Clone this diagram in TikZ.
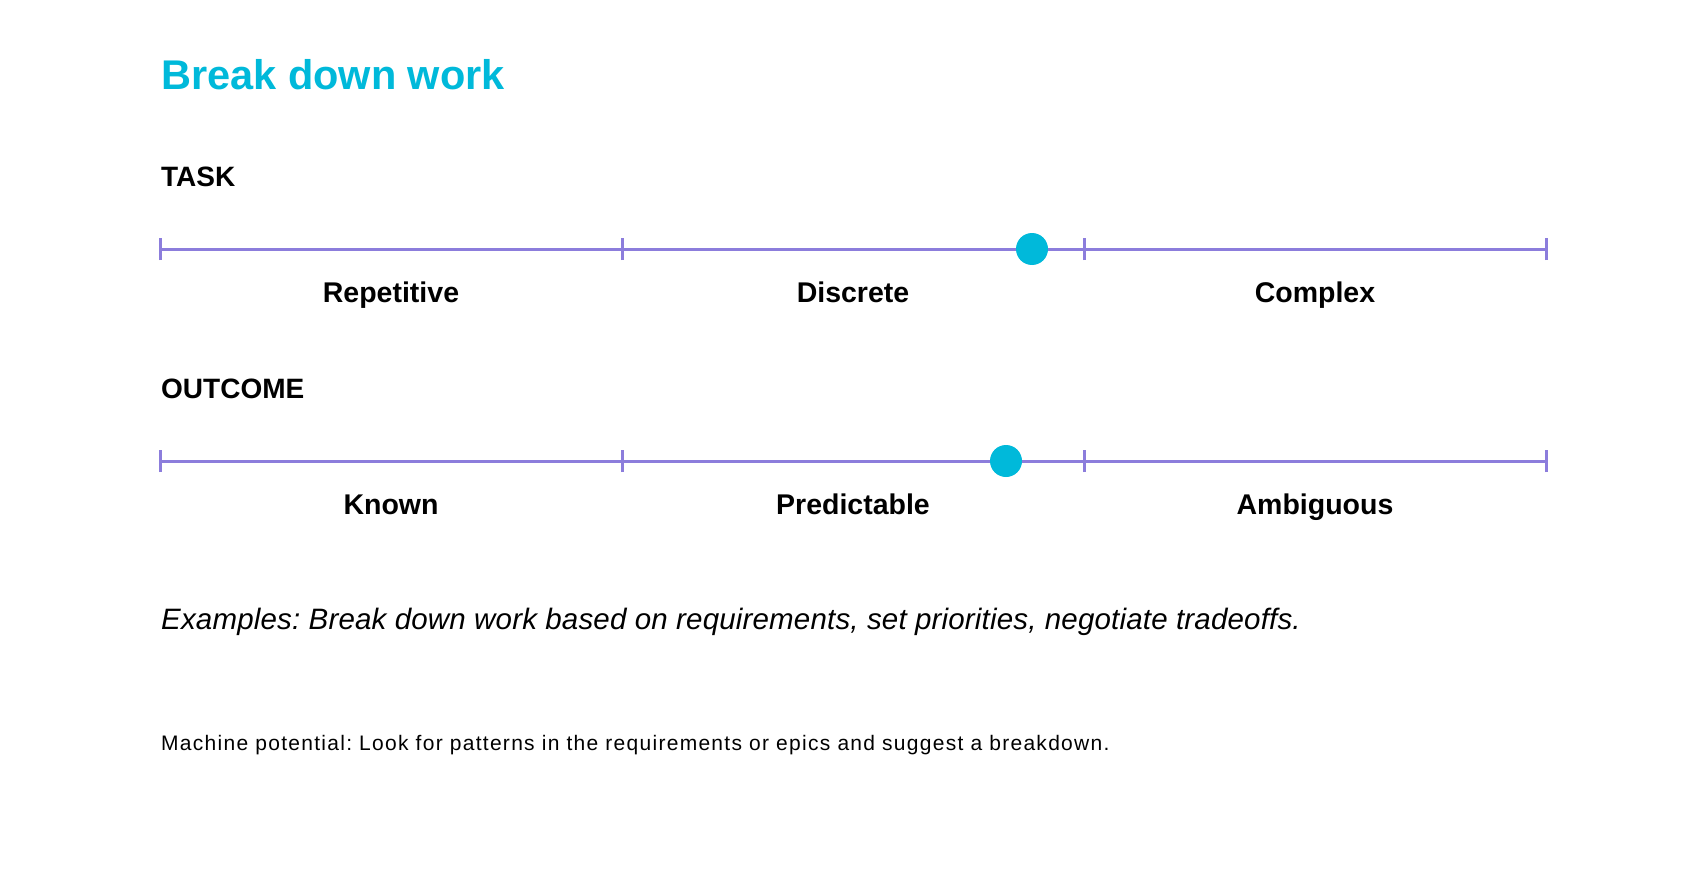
\documentclass[tikz,border=0pt]{standalone}
\usepackage{fontspec}
\setmainfont{Liberation Sans}
\frenchspacing
\definecolor{titlecyan}{HTML}{00B9DA}
\definecolor{scalepurple}{HTML}{8C7DDC}
\begin{document}
\begin{tikzpicture}[x=1pt,y=-1pt,
  titletext/.style={anchor=base west,inner sep=0pt,font=\fontsize{41.5}{48}\selectfont\bfseries,text=titlecyan},
  headtext/.style={anchor=base west,inner sep=0pt,font=\fontsize{28}{34}\selectfont\bfseries},
  labeltext/.style={anchor=base,inner sep=0pt,font=\fontsize{28.5}{34}\selectfont\bfseries},
  scaleline/.style={draw=scalepurple,line width=3pt},
  tickmark/.style={draw=scalepurple,line width=3pt},
  marker/.style={circle,fill=titlecyan,minimum size=32pt,inner sep=0pt},
  exampletext/.style={anchor=base west,inner sep=0pt,font=\fontsize{29.5}{35}\selectfont\itshape\addfontfeature{LetterSpace=0.6}},
  notetext/.style={anchor=base west,inner sep=0pt,font=\fontsize{21}{26}\selectfont\addfontfeature{LetterSpace=6.1}}]
\useasboundingbox[fill=white] (0,0) rectangle (1706,872);
\node[titletext] (title) at (161,90) {Break down work};
% TASK scale
\node[headtext] (task) at (161,186) {TASK};
\coordinate (t0) at (160,249);
\coordinate (t1) at (622,249);
\coordinate (t2) at (1084,249);
\coordinate (t3) at (1546,249);
\draw[scaleline] (t0) -- (t3);
\foreach \c in {t0,t1,t2,t3} \draw[tickmark] ([yshift=-11pt]\c) -- ([yshift=11pt]\c);
\node[marker] (tdot) at (1032,249) {};
\node[labeltext] (rep) at (391,302) {Repetitive};
\node[labeltext] (dis) at (853,302) {Discrete};
\node[labeltext] (com) at (1315,302) {Complex};
% OUTCOME scale
\node[headtext] (outcome) at (161,398) {OUTCOME};
\coordinate (o0) at (160,461);
\coordinate (o1) at (622,461);
\coordinate (o2) at (1084,461);
\coordinate (o3) at (1546,461);
\draw[scaleline] (o0) -- (o3);
\foreach \c in {o0,o1,o2,o3} \draw[tickmark] ([yshift=-11pt]\c) -- ([yshift=11pt]\c);
\node[marker] (odot) at (1006,461) {};
\node[labeltext] (kno) at (391,514) {Known};
\node[labeltext] (pre) at (853,514) {Predictable};
\node[labeltext] (amb) at (1315,514) {Ambiguous};
% texts
\node[exampletext] (ex) at (161,629) {Examples: Break down work based on requirements, set priorities, negotiate tradeoffs.};
\node[notetext] (mp) at (161,750) {Machine potential: Look for patterns in the requirements or epics and suggest a breakdown.};
\end{tikzpicture}
\end{document}
